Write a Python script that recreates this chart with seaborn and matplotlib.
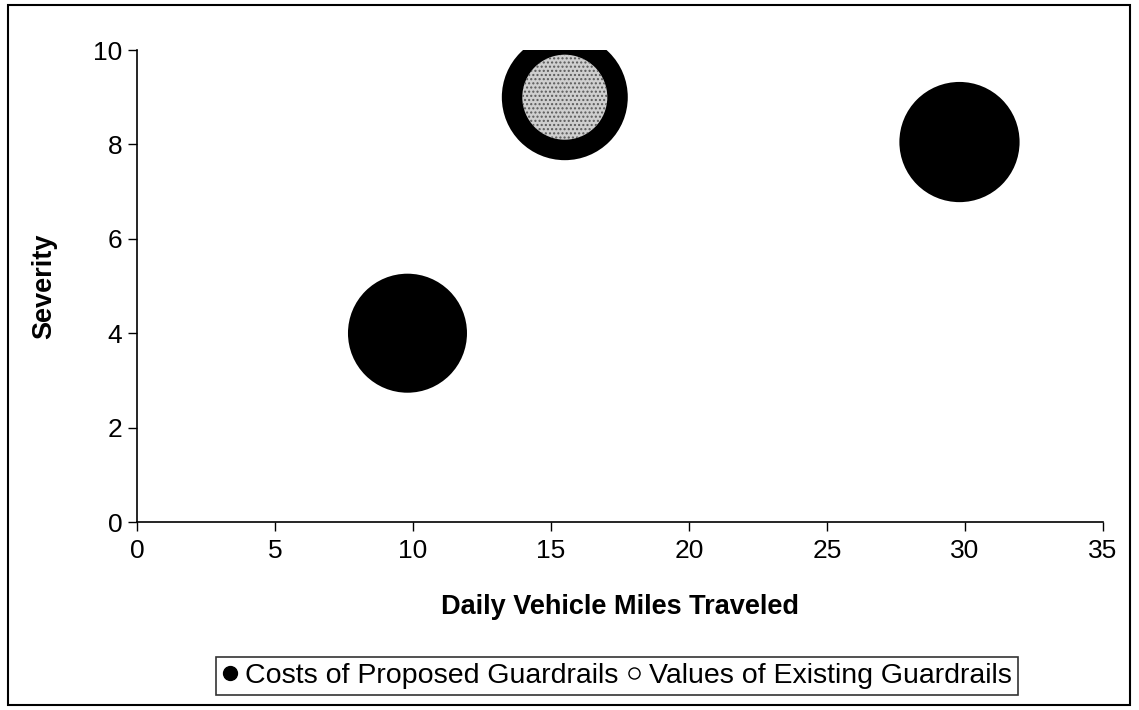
import pandas as pd
import matplotlib.pyplot as plt
import matplotlib.patches as mpatches
from matplotlib.lines import Line2D
import seaborn as sns

# bubble data
miles = [9.8, 15.5, 29.8]
severity = [4.0, 9.0, 8.05]
proposed_cost = [100, 112, 102]

existing_miles = [15.5]
existing_severity = [9.0]
existing_value = [51]

series_labels = ["Costs of Proposed Guardrails", "Values of Existing Guardrails"]

df_cost = pd.DataFrame({"miles": miles, "severity": severity, "value": proposed_cost})
df_exist = pd.DataFrame({"miles": existing_miles, "severity": existing_severity, "value": existing_value})

sns.set_style("white")
plt.rcParams["font.family"] = ["Liberation Sans", "DejaVu Sans"]
plt.rcParams["text.color"] = "black"
plt.rcParams["axes.labelcolor"] = "black"
plt.rcParams["xtick.color"] = "black"
plt.rcParams["ytick.color"] = "black"

fig = plt.figure(figsize=(11.39, 7.10), dpi=100)
ax = fig.add_axes([137 / 1139, 1 - 522 / 710, (1103 - 137) / 1139, (522 - 50) / 710])

vmax = max(proposed_cost)
smax = 7344 * vmax / 100

sns.scatterplot(data=df_cost, x="miles", y="severity", size="value",
                sizes=(0, smax), size_norm=(0, vmax), color="black",
                linewidth=0, legend=False, ax=ax, zorder=2)
sns.scatterplot(data=df_exist, x="miles", y="severity", size="value",
                sizes=(0, smax), size_norm=(0, vmax), color="#cfcfcf",
                edgecolor="#5a5a5a", linewidth=0, hatch="....",
                legend=False, ax=ax, zorder=3)

ax.set_xlim(0, 35)
ax.set_ylim(0, 10)
ax.set_xticks(range(0, 36, 5))
ax.set_yticks(range(0, 11, 2))
ax.tick_params(axis="both", which="major", direction="out", length=6.5, width=1,
               labelsize=19, left=True, bottom=True)
ax.tick_params(axis="y", pad=4)
ax.tick_params(axis="x", pad=6)
for side in ["top", "right"]:
    ax.spines[side].set_visible(False)
for side in ["left", "bottom"]:
    ax.spines[side].set_color("black")
    ax.spines[side].set_linewidth(1.2)

ax.set_xlabel("Daily Vehicle Miles Traveled", fontsize=19.5, fontweight="bold", labelpad=22)
ax.set_ylabel("Severity", fontsize=19.5, fontweight="bold", labelpad=26)

handles = [
    Line2D([], [], marker="o", linestyle="none", markersize=10,
           markerfacecolor="black", markeredgecolor="black"),
    Line2D([], [], marker="o", linestyle="none", markersize=8,
           markerfacecolor="white", markeredgecolor="black", markeredgewidth=1),
]
leg = fig.legend(handles, series_labels, loc="center", ncol=2,
                 bbox_to_anchor=(617 / 1139, 1 - 676 / 710),
                 fontsize=20.5, frameon=True, fancybox=False,
                 handlelength=0.55, handletextpad=0.25, columnspacing=0.3,
                 borderpad=0.2, borderaxespad=0)
leg.get_frame().set_edgecolor("black")
leg.get_frame().set_linewidth(1.2)

# outer chart border
fig.patches.append(mpatches.Rectangle((8 / 1139, 1 - 705 / 710), (1130 - 8) / 1139, (705 - 5) / 710,
                                      transform=fig.transFigure, fill=False,
                                      edgecolor="black", linewidth=1.5))

fig.savefig("out.png", dpi=100)
